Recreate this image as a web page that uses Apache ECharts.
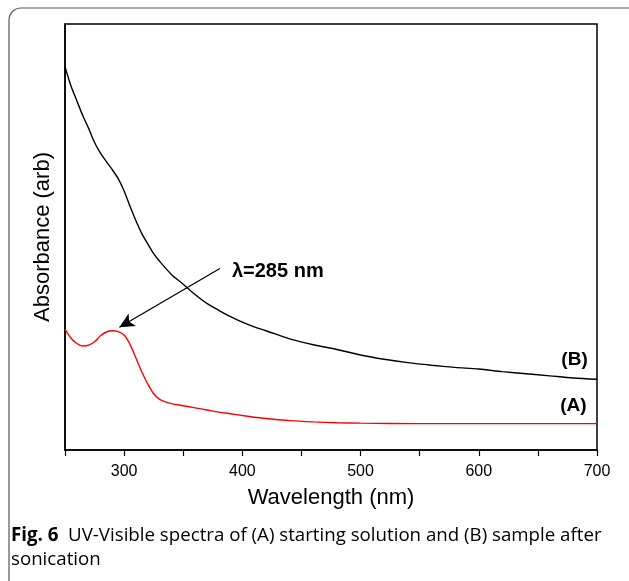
<!DOCTYPE html>
<html>
<head>
<meta charset="utf-8">
<script src="https://cdn.jsdelivr.net/npm/echarts@6/dist/echarts.min.js"></script>
<style>
html,body{margin:0;padding:0;background:#fff;}
#chart{width:629px;height:581px;}
</style>
</head>
<body>
<div id="chart"></div>
<script>
// Wavelength ticks
const xTickLabels = [300, 400, 500, 600, 700];

// Curve (B): sample after sonication
const wavelengthsB = [250,255,260,265,270,275,280,285,290,295,300,305,310,315,320,325,330,340,350,360,370,380,390,400,410,420,440,460,480,500,520,540,560,580,600,620,640,660,680,700];
const absorbB = [0.900,0.855,0.820,0.785,0.755,0.722,0.697,0.677,0.658,0.637,0.608,0.572,0.538,0.508,0.484,0.461,0.443,0.412,0.389,0.365,0.344,0.328,0.313,0.300,0.289,0.280,0.261,0.247,0.236,0.223,0.213,0.205,0.199,0.194,0.190,0.184,0.179,0.174,0.169,0.166];

// Curve (A): starting solution
const wavelengthsA = [250,255,260,265,270,275,280,285,290,295,300,305,310,315,320,325,330,335,340,350,360,370,380,390,400,410,420,440,460,480,500,550,600,650,700];
const absorbA = [0.284,0.263,0.250,0.244,0.246,0.254,0.268,0.277,0.280,0.278,0.270,0.248,0.216,0.183,0.155,0.132,0.119,0.113,0.109,0.104,0.099,0.094,0.089,0.085,0.081,0.077,0.074,0.069,0.066,0.064,0.063,0.062,0.062,0.062,0.062];

// Annotation
const peakLabel = 'λ=285 nm';
const arrowFrom = [381, 0.426];
const arrowTo = [296, 0.288];
const peakLabelAt = [430, 0.420];
const labelA = '(A)', labelAAt = [680, 0.103];
const labelB = '(B)', labelBAt = [681, 0.211];

const captionBold = 'Fig. 6';
const captionText1 = '  UV-Visible spectra of (A) starting solution and (B) sample after';
const captionText2 = 'sonication';

const pair = (xs, ys) => xs.map((x, i) => [x, ys[i]]);

const chart = echarts.init(document.getElementById('chart'), null, {renderer: 'canvas'});
const axisFont = 'Liberation Sans, Arial, sans-serif';

chart.setOption({
  animation: false,
  backgroundColor: '#fff',
  grid: {left: 65, right: 32, top: 24, bottom: 131, show: true, borderColor: '#000', borderWidth: 1.5},
  xAxis: {
    type: 'value', min: 250, max: 700, interval: 50,
    name: 'Wavelength (nm)', nameLocation: 'middle', nameGap: 37,
    nameTextStyle: {fontFamily: axisFont, fontSize: 22, color: '#000'},
    axisLine: {lineStyle: {color: '#000', width: 1.5}},
    axisTick: {length: 6, lineStyle: {color: '#000', width: 1.2}},
    axisLabel: {fontFamily: axisFont, fontSize: 16, color: '#000', margin: 14,
      formatter: v => xTickLabels.includes(v) ? String(v) : ''},
    splitLine: {show: false}
  },
  yAxis: {
    type: 'value', min: 0, max: 1,
    name: 'Absorbance (arb)', nameLocation: 'middle', nameGap: 11,
    nameTextStyle: {fontFamily: axisFont, fontSize: 22, color: '#000'},
    axisLine: {show: true, lineStyle: {color: '#000', width: 1.5}},
    axisTick: {show: false}, axisLabel: {show: false}, splitLine: {show: false}
  },
  series: [
    {
      name: 'B', type: 'line', data: pair(wavelengthsB, absorbB), showSymbol: false,
      smooth: 0.3, lineStyle: {color: '#000', width: 1.4},
      markPoint: {
        symbol: 'circle', symbolSize: 0,
        label: {show: true, position: 'inside', color: '#000', fontFamily: axisFont, fontWeight: 'bold', fontSize: 19},
        data: [{coord: labelBAt, value: labelB, label: {formatter: labelB}}]
      }
    },
    {
      name: 'A', type: 'line', data: pair(wavelengthsA, absorbA), showSymbol: false,
      smooth: 0.3, lineStyle: {color: '#ff0000', width: 1.4},
      markPoint: {
        symbol: 'circle', symbolSize: 0,
        label: {show: true, position: 'inside', color: '#000', fontFamily: axisFont, fontWeight: 'bold', fontSize: 19},
        data: [
          {coord: labelAAt, value: labelA, label: {formatter: labelA}},
          {coord: peakLabelAt, value: peakLabel, label: {formatter: peakLabel, fontSize: 20}}
        ]
      },
      markLine: {
        silent: true, symbol: ['none', 'arrow'], symbolSize: [11, 15],
        lineStyle: {color: '#000', width: 1.3, type: 'solid'},
        label: {show: false},
        data: [[{coord: arrowFrom}, {coord: arrowTo}]]
      }
    }
  ],
  graphic: [
    {type: 'rect', silent: true, z: -1,
      shape: {x: 9, y: 8, width: 700, height: 700, r: 12},
      style: {fill: 'none', stroke: '#555', lineWidth: 1.2}},
    {type: 'text', left: 11, top: 526,
      style: {
        text: '{b|' + captionBold + '}{n|' + captionText1 + '}\n{n|' + captionText2 + '}',
        rich: {
          b: {fontFamily: 'Open Sans, Noto Sans, sans-serif', fontWeight: 'bold', fontSize: 18.7, fill: '#000', lineHeight: 24},
          n: {fontFamily: 'Open Sans, Noto Sans, sans-serif', fontSize: 18.7, fill: '#000', lineHeight: 24}
        }
      }}
  ]
});
</script>
</body>
</html>
